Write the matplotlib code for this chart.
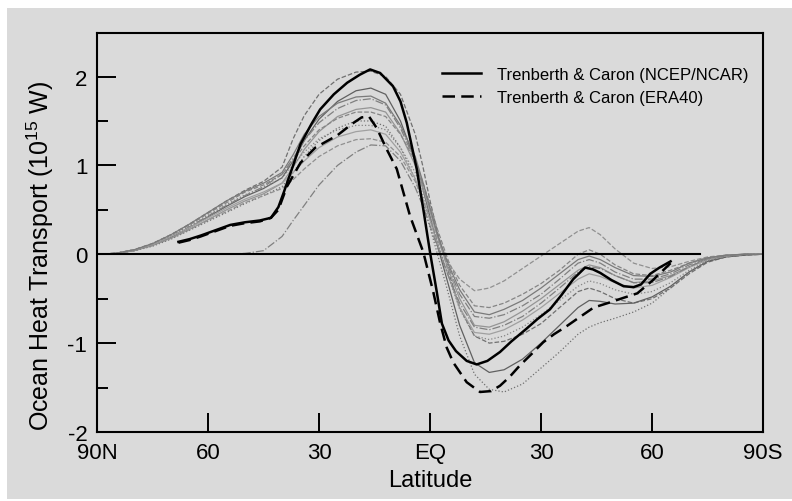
import matplotlib
matplotlib.use('Agg')
import matplotlib.pyplot as plt
from matplotlib.patches import Rectangle

plt.rcParams['font.family'] = ['Liberation Sans', 'DejaVu Sans']
plt.rcParams['mathtext.default'] = 'regular'

# latitude, north positive (plotted 90N on the left)
model_lat = [90, 85, 80, 75, 70, 65, 60, 55, 50, 45, 40, 37, 34, 30, 25, 20, 16, 12, 8, 4, 2, 0,
             -2, -5, -8, -12, -16, -20, -25, -30, -35, -40, -43, -46, -50, -55, -60, -65, -70, -75, -80, -85, -90]

# coupled model curves (thin grey lines)
m1 = [0, 0.01, 0.05, 0.12, 0.22, 0.34, 0.47, 0.6, 0.72, 0.82, 0.98, 1.3, 1.56, 1.8, 1.97, 2.05, 2.06, 2.0, 1.8, 1.35, 1.0, 0.6,
      0.25, -0.2, -0.6, -0.92, -1.0, -0.98, -0.9, -0.78, -0.6, -0.42, -0.38, -0.42, -0.5, -0.55, -0.5, -0.38, -0.22, -0.09, -0.03, -0.01, 0]
m2 = [0, 0.01, 0.04, 0.1, 0.19, 0.3, 0.42, 0.54, 0.65, 0.74, 0.86, 1.05, 1.28, 1.52, 1.72, 1.84, 1.87, 1.8, 1.5, 1.05, 0.75, 0.42,
      0.1, -0.35, -0.8, -1.22, -1.33, -1.3, -1.18, -1.0, -0.8, -0.6, -0.52, -0.53, -0.56, -0.55, -0.48, -0.36, -0.2, -0.08, -0.03, -0.01, 0]
m3 = [0, 0.01, 0.05, 0.11, 0.2, 0.31, 0.43, 0.55, 0.66, 0.76, 0.9, 1.08, 1.28, 1.48, 1.64, 1.73, 1.75, 1.68, 1.42, 1.05, 0.8, 0.5,
      0.22, -0.15, -0.45, -0.7, -0.72, -0.68, -0.58, -0.45, -0.28, -0.1, -0.06, -0.1, -0.2, -0.28, -0.28, -0.22, -0.12, -0.05, -0.02, 0, 0]
m4 = [0, 0.01, 0.04, 0.1, 0.18, 0.28, 0.39, 0.5, 0.6, 0.68, 0.8, 0.98, 1.18, 1.38, 1.55, 1.63, 1.65, 1.6, 1.36, 1.0, 0.75, 0.48,
      0.2, -0.18, -0.5, -0.8, -0.82, -0.76, -0.64, -0.5, -0.34, -0.18, -0.12, -0.15, -0.24, -0.32, -0.3, -0.24, -0.14, -0.06, -0.02, 0, 0]
m5 = [0, 0.01, 0.05, 0.12, 0.22, 0.33, 0.46, 0.58, 0.7, 0.78, 0.9, 1.05, 1.22, 1.4, 1.53, 1.6, 1.6, 1.55, 1.35, 1.05, 0.82, 0.55,
      0.28, -0.08, -0.35, -0.58, -0.6, -0.55, -0.45, -0.33, -0.18, 0.0, 0.05, 0.0, -0.12, -0.22, -0.24, -0.18, -0.1, -0.04, -0.01, 0, 0]
m6 = [0, 0.01, 0.04, 0.09, 0.17, 0.27, 0.37, 0.47, 0.57, 0.66, 0.76, 0.92, 1.1, 1.28, 1.42, 1.5, 1.5, 1.44, 1.2, 0.85, 0.58, 0.3,
      0.0, -0.45, -0.92, -1.35, -1.52, -1.55, -1.46, -1.28, -1.1, -0.9, -0.82, -0.77, -0.72, -0.65, -0.55, -0.38, -0.2, -0.07, -0.02, 0, 0]
m7 = [0, 0.01, 0.05, 0.11, 0.2, 0.3, 0.41, 0.52, 0.62, 0.7, 0.8, 0.92, 1.05, 1.2, 1.32, 1.38, 1.4, 1.35, 1.15, 0.85, 0.62, 0.38,
      0.12, -0.25, -0.6, -0.88, -0.9, -0.85, -0.74, -0.6, -0.44, -0.28, -0.22, -0.25, -0.32, -0.38, -0.35, -0.26, -0.15, -0.06, -0.02, 0, 0]
m8 = [0, 0.01, 0.04, 0.1, 0.18, 0.28, 0.38, 0.48, 0.58, 0.66, 0.74, 0.84, 0.96, 1.1, 1.22, 1.29, 1.3, 1.26, 1.1, 0.82, 0.62, 0.4,
      0.16, -0.1, -0.28, -0.41, -0.38, -0.3, -0.16, -0.02, 0.12, 0.26, 0.3, 0.22, 0.06, -0.1, -0.16, -0.14, -0.08, -0.03, -0.01, 0, 0]
m9 = [0, 0, 0, 0, 0, 0, 0, 0, 0.01, 0.04, 0.2, 0.38, 0.55, 0.78, 1.0, 1.15, 1.23, 1.22, 1.05, 0.75, 0.55, 0.32,
      0.08, -0.25, -0.55, -0.82, -0.85, -0.8, -0.7, -0.55, -0.38, -0.2, -0.14, -0.16, -0.24, -0.32, -0.32, -0.25, -0.14, -0.05, -0.02, 0, 0]
m10 = [0, 0.01, 0.05, 0.12, 0.21, 0.32, 0.44, 0.56, 0.67, 0.75, 0.86, 1.0, 1.15, 1.3, 1.4, 1.45, 1.45, 1.4, 1.2, 0.92, 0.68, 0.42,
       0.14, -0.25, -0.62, -0.92, -0.96, -0.92, -0.82, -0.68, -0.52, -0.36, -0.3, -0.33, -0.4, -0.45, -0.42, -0.32, -0.18, -0.07, -0.02, 0, 0]
m11 = [0, 0.01, 0.05, 0.12, 0.22, 0.34, 0.47, 0.6, 0.71, 0.8, 0.92, 1.12, 1.35, 1.55, 1.7, 1.77, 1.78, 1.7, 1.45, 1.1, 0.82, 0.52,
       0.22, -0.12, -0.4, -0.65, -0.68, -0.62, -0.52, -0.38, -0.22, -0.06, -0.02, -0.06, -0.15, -0.24, -0.25, -0.2, -0.1, -0.04, -0.01, 0, 0]
models = [m1, m2, m3, m4, m5, m6, m7, m8, m9, m10, m11]
model_colors = ['#707070', '#606060', '#808080', '#959595', '#858585', '#707070', '#a0a0a0', '#909090', '#808080', '#858585', '#7a7a7a']
model_styles = ['--', '-', '-.', '-', '--', ':', '-', '--', '-.', ':', '-']

# Trenberth & Caron (NCEP/NCAR)
ncep_lat = [68, 65, 62, 58, 54, 50, 46, 43, 41, 39.5, 38, 35, 32, 29.7, 26, 22.4, 19, 16.2, 13.5, 10,
            8, 6.3, 3.6, 1.8, 0, -1.8, -3.2, -5, -7, -9.9, -12.6, -15.5, -18.9, -22, -26, -29, -32.4, -35.5, -38.7, -41.9,
            -44, -46, -49, -52.3, -55, -57, -59.5, -62, -65]
ncep_val = [0.14, 0.17, 0.21, 0.27, 0.33, 0.36, 0.38, 0.41, 0.53, 0.70, 0.88, 1.24, 1.47, 1.63, 1.80, 1.93, 2.02, 2.08, 2.04, 1.89,
            1.72, 1.48, 0.96, 0.5, 0.02, -0.42, -0.78, -0.97, -1.09, -1.2, -1.24, -1.2, -1.1, -0.98, -0.84, -0.73, -0.62, -0.46, -0.28, -0.15,
            -0.17, -0.21, -0.29, -0.36, -0.37, -0.34, -0.22, -0.15, -0.08]

# Trenberth & Caron (ERA40)
era_lat = [68, 65, 62, 58, 54, 50, 46, 43, 41, 38.7, 35, 31, 25, 21, 18.5, 16.5, 14.4, 11.7, 9, 5.4,
           1.8, -0.9, -2.7, -4.5, -6.3, -9.9, -13.5, -16.5, -18.9, -21.5, -24.3, -27.5, -30.6, -33.5, -36.9, -40, -44.2, -48, -52.3, -56,
           -60, -65]
era_val = [0.13, 0.16, 0.2, 0.26, 0.32, 0.35, 0.37, 0.41, 0.5, 0.76, 1.03, 1.2, 1.34, 1.47, 1.54, 1.55, 1.42, 1.18, 0.96, 0.43,
           0.02, -0.43, -0.77, -1.05, -1.22, -1.44, -1.55, -1.54, -1.48, -1.38, -1.25, -1.12, -0.99, -0.9, -0.81, -0.72, -0.6, -0.55, -0.49, -0.44,
           -0.3, -0.1]

zero_lat = [90, -73]
zero_val = [0, 0]

xtick_pos = [90, 60, 30, 0, -30, -60, -90]
xtick_labels = ['90N', '60', '30', 'EQ', '30', '60', '90S']
ytick_pos = [-2, -1, 0, 1, 2]
ytick_labels = ['-2', '-1', '0', '1', '2']
yminor_pos = [-1.5, -0.5, 0.5, 1.5]

bg = '#dadada'
fig = plt.figure(figsize=(7.92, 5.02), dpi=100, facecolor='white')
fig.patches.append(Rectangle((0.0088, 0.004), 0.991, 0.978, transform=fig.transFigure,
                             facecolor=bg, edgecolor='none', zorder=-10))
ax = fig.add_axes([0.1225, 0.1375, 0.841, 0.7948])
ax.set_zorder(1)
ax.set_facecolor(bg)

for vals, c, ls in zip(models, model_colors, model_styles):
    ax.plot(model_lat, vals, color=c, linestyle=ls, linewidth=0.9)

ax.plot(zero_lat, zero_val, color='black', linewidth=1.5)
ax.plot(ncep_lat, ncep_val, color='black', linewidth=1.8, label='Trenberth & Caron (NCEP/NCAR)')
ax.plot(era_lat, era_val, color='black', linewidth=1.8, dashes=(5, 2.5), label='Trenberth & Caron (ERA40)')

ax.set_xlim(90, -90)
ax.set_ylim(-2, 2.49)
ax.set_xticks(xtick_pos)
ax.set_xticklabels(xtick_labels)
ax.set_yticks(ytick_pos)
ax.set_yticklabels(ytick_labels)
ax.set_yticks(yminor_pos, minor=True)
ax.tick_params(which='major', direction='in', length=13.7, width=1.4, labelsize=16, pad=7,
               top=False, right=False)
ax.tick_params(which='minor', direction='in', length=7.7, width=1.4, top=False, right=False)
for s in ax.spines.values():
    s.set_linewidth(1.5)

ax.set_ylabel('Ocean Heat Transport (10$^{15}$ W)', fontsize=18)
ax.yaxis.set_label_coords(-0.0615, 0.444)
ax.set_xlabel('Latitude', fontsize=17)
ax.xaxis.set_label_coords(0.5, -0.0927)

ax.legend(loc='upper right', bbox_to_anchor=(0.991, 0.935), frameon=False, fontsize=12,
          handlelength=2.3, handletextpad=1.0, borderpad=0, labelspacing=0.45)

fig.savefig('out.png', dpi=100, facecolor='white')
